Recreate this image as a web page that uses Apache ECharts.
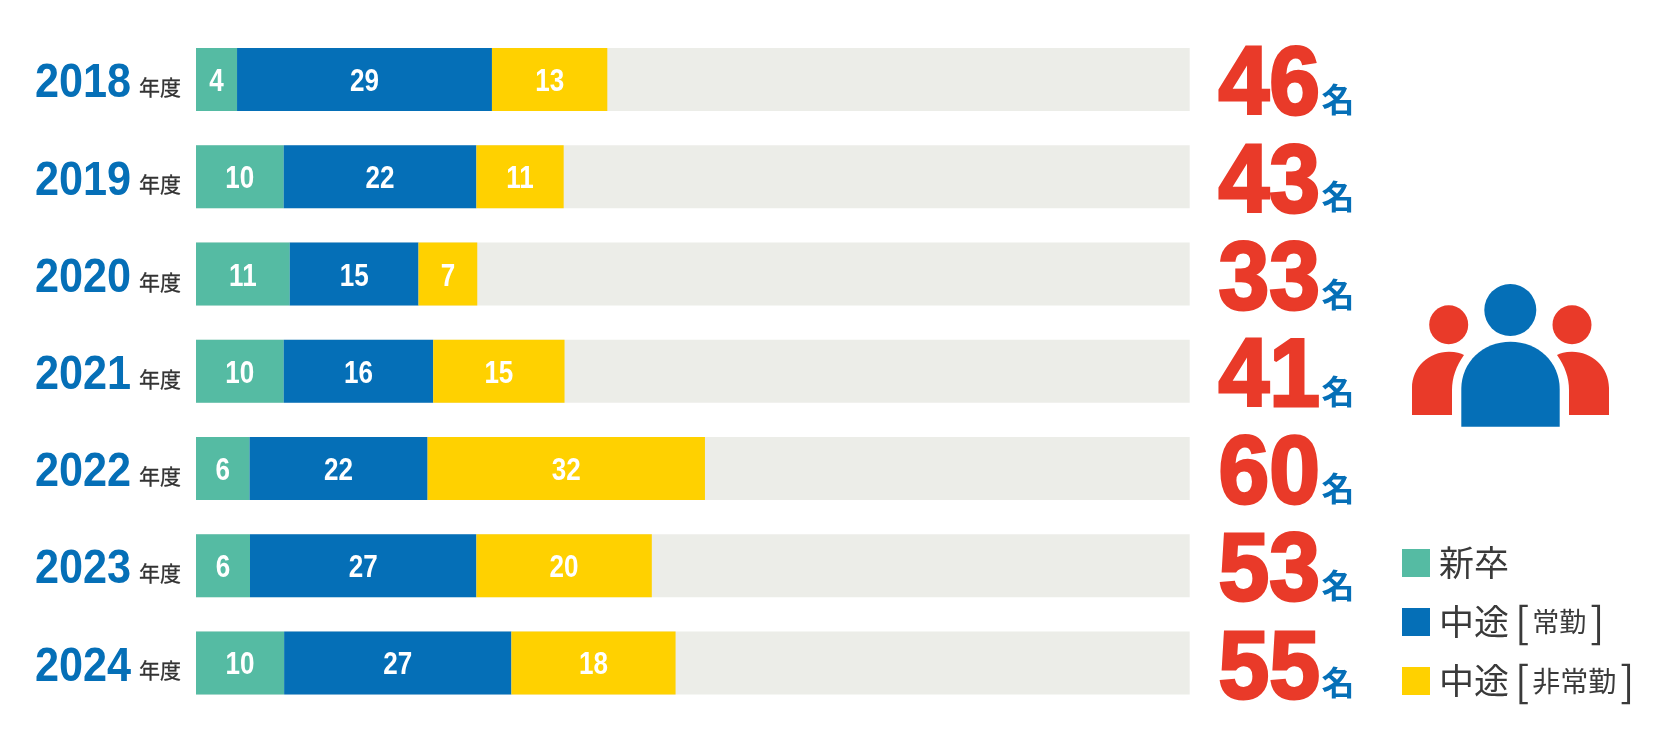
<!DOCTYPE html>
<html><head><meta charset="utf-8">
<style>html,body{margin:0;padding:0;background:#fff}#c{width:1667px;height:743px}</style>
<script src="https://cdn.jsdelivr.net/npm/echarts@6/dist/echarts.min.js"></script>
</head><body><div id="c"></div>
<script>
const years=['2018','2019','2020','2021','2022','2023','2024'];
const totals=[46,43,33,41,60,53,55];
// printed values
const labelNew=[4,10,11,10,6,6,10];
const labelRegular=[29,22,15,16,22,27,27];
const labelPart=[13,11,7,15,32,20,18];
// bar lengths as drawn in the picture, which are not strictly proportional to the printed values
const drawnNew=[4.75,10.15,10.85,10.15,6.2,6.25,10.2];
const drawnRegular=[29.5,22.3,14.9,17.3,20.6,26.2,26.3];
const drawnPart=[13.35,10.1,6.8,15.2,32.1,20.3,19.0];
const axisMax=115;
const names=['新卒','中途[常勤]','中途[非常勤]'];
const colors=['#55BBA3','#056FB7','#FFD100'];
const numFont='"Liberation Sans",sans-serif';
const cjk='"Noto Sans CJK JP",sans-serif';
const R='#E93A29',B='#056FB7',INK='#3a3a3a';
const seg=(i,drawn,extra)=>Object.assign({
  name:names[i],type:'bar',stack:'a',barWidth:63,data:drawn,itemStyle:{color:colors[i]}
},extra||{});
const iconParts=[
  ['M1412 415 V388 C1412 367 1429 351.7 1449 351.7 C1456 351.7 1461 353 1464 355 C1456 366 1452 378 1452 390 V415 Z',R],
  ['M1609 415 V388 C1609 367 1592 351.7 1572 351.7 C1565 351.7 1560 353 1557 355 C1565 366 1569 378 1569 390 V415 Z',R],
  ['M1461.3 426.7 V389 C1461.3 362 1483 341.7 1510.5 341.7 C1538 341.7 1559.7 362 1559.7 389 V426.7 Z',B]
];
// value label anchors follow the stacked bars
const barLabels=[];
years.forEach((y,i)=>{
  const a=drawnNew[i],b=drawnRegular[i],c=drawnPart[i];
  barLabels.push([a/2,i,labelNew[i]],[a+b/2,i,labelRegular[i]],[a+b+c/2,i,labelPart[i]]);
});
const textEl=(x,y,text,o)=>({type:'text',x,y,scaleX:o.scaleX||1,style:{text:String(text),fontFamily:o.font,fontSize:o.size,fontWeight:o.weight||'normal',
  fill:o.fill,align:o.align||'center',verticalAlign:'middle',stroke:o.stroke||null,lineWidth:o.lw||0}});
const chart=echarts.init(document.getElementById('c'),null,{renderer:'canvas'});
chart.setOption({
  animation:false,
  grid:{left:196,top:31,width:993.7,height:680.5,containLabel:false},
  xAxis:{type:'value',min:0,max:axisMax,show:false},
  yAxis:{type:'category',inverse:true,data:years,axisLine:{show:false},axisTick:{show:false},axisLabel:{show:false}},
  legend:{
    orient:'vertical',left:1402,top:542,padding:0,itemWidth:28,itemHeight:28,itemGap:17,
    icon:'rect',selectedMode:false,data:names,
    formatter:n=>({'新卒':'{a|新卒}{k| }','中途[常勤]':'{a|中途}{k|[}{b|常勤}{j|]}','中途[非常勤]':'{a|中途}{k|[}{c|非常勤}{j|]}'})[n],
    textStyle:{rich:{
      a:{fontFamily:cjk,fontSize:35,height:36,lineHeight:36,color:INK,padding:[0,0,0,4]},
      b:{fontFamily:cjk,fontSize:27,height:36,lineHeight:36,color:INK},
      c:{fontFamily:cjk,fontSize:28,height:36,lineHeight:36,color:INK},
      k:{fontFamily:cjk,fontSize:42,height:36,lineHeight:36,color:INK,padding:[0,3,0,6]},
      j:{fontFamily:cjk,fontSize:42,height:36,lineHeight:36,color:INK,padding:[0,0,0,4]}}}
  },
  series:[
    seg(0,drawnNew,{showBackground:true,backgroundStyle:{color:'#ECEDE8'}}),
    seg(1,drawnRegular),
    seg(2,drawnPart),
    {type:'custom',name:'bar labels',coordinateSystem:'cartesian2d',silent:true,data:barLabels,z:5,encode:{x:0,y:1},
     renderItem:(p,api)=>{const c=api.coord([api.value(0),api.value(1)]);
       return textEl(c[0],c[1]+3,api.value(2),{font:numFont,size:31,weight:'bold',fill:'#fff',scaleX:.84});}},
    {type:'custom',name:'years and totals',coordinateSystem:'cartesian2d',silent:true,z:5,encode:{x:0,y:1},
     data:years.map((y,i)=>[0,i,totals[i]]),
     renderItem:(p,api)=>{const i=api.value(1),c=api.coord([0,i]),X=c[0],Y=c[1];
       return {type:'group',children:[
         textEl(X-65,Y+4.5,years[i],{font:numFont,size:48,weight:'bold',fill:B,align:'right',scaleX:.9}),
         textEl(X-57,Y+7.5,'年度',{font:cjk,size:21,fill:'#333',align:'left',stroke:'#333',lw:.3}),
         textEl(X+1124,Y+8,api.value(2),{font:numFont,size:97,weight:'bold',fill:R,align:'right',scaleX:.94,stroke:R,lw:3}),
         textEl(X+1125.5,Y+20,'名',{font:cjk,size:33,weight:'bold',fill:B,align:'left'})
       ]};}},
    {type:'custom',name:'icon',coordinateSystem:'none',silent:true,data:[0],
     renderItem:()=>({type:'group',children:iconParts.map(([pathData,fill])=>({type:'path',shape:{pathData},style:{fill}}))})}
  ],
  graphic:[
    {type:'circle',shape:{cx:1448.7,cy:324.7,r:19.5},style:{fill:R}},
    {type:'circle',shape:{cx:1572,cy:324.7,r:19.5},style:{fill:R}},
    {type:'circle',shape:{cx:1510.3,cy:310,r:26},style:{fill:B}}
  ]
});
</script></body></html>
